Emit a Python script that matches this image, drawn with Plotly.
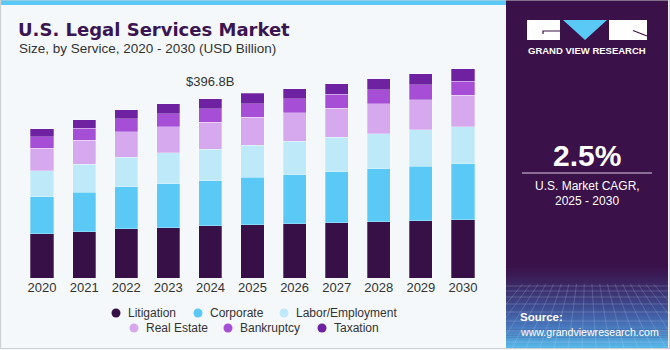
import plotly.graph_objects as go

# ---------------- data ----------------
years = ["2020", "2021", "2022", "2023", "2024", "2025", "2026", "2027", "2028", "2029", "2030"]
litigation = [98.2, 102.6, 109.3, 111.5, 115.5, 117.5, 120.4, 122.6, 124.8, 127.0, 129.3]
corporate = [81.4, 87.1, 93.1, 97.5, 99.5, 105.7, 108.6, 113.1, 117.5, 120.4, 124.2]
labor = [57.6, 62.1, 65.0, 68.1, 70.4, 70.9, 73.8, 76.0, 77.6, 81.4, 82.0]
real_estate = [50.3, 53.2, 56.1, 58.3, 60.0, 62.1, 63.6, 64.3, 65.8, 66.5, 69.4]
bankruptcy = [25.1, 27.3, 28.8, 28.8, 29.6, 30.4, 30.4, 31.0, 31.7, 32.6, 31.0]
taxation = [18.4, 18.4, 20.0, 21.5, 21.8, 22.2, 22.8, 23.7, 24.4, 24.4, 27.3]
series_names = ["Litigation", "Corporate", "Labor/Employment", "Real Estate", "Bankruptcy", "Taxation"]
highlight_year = "2024"
highlight_label = "$396.8B"
cagr_text = "2.5%"

# ---------------- styles ----------------
colors = ["#381048", "#5BC9F5", "#BDE9F9", "#D6A9EE", "#A64FD6", "#6E21A0"]
values = [litigation, corporate, labor, real_estate, bankruptcy, taxation]

W, H = 670, 350
L, R, T, B = 21, 186, 60, 72
pw, ph = W - L - R, H - T - B


def px(x):
    return (x - L) / pw


def py(y):
    return (H - B - y) / ph


fig = go.Figure()
for name, vals, col in zip(series_names, values, colors):
    fig.add_trace(go.Bar(
        x=years, y=vals, name=name, marker_color=col,
        marker_line=dict(width=0.8, color="rgba(255,255,255,0.35)"),
        showlegend=False, hoverinfo="skip"))

ymax = 483
shapes = []
BG = "#F4F8FB"
PANEL = "#3A1149"
# top blue strip
shapes.append(dict(type="rect", xref="paper", yref="paper", x0=px(0), x1=px(506), y0=py(0), y1=py(5),
                   fillcolor="#5BC9F5", line_width=0, layer="below"))
# right dark panel
shapes.append(dict(type="rect", xref="paper", yref="paper", x0=px(506), x1=px(668), y0=py(0), y1=py(348),
                   fillcolor=PANEL, line_width=0, layer="below"))


# gradient at the bottom of the panel
def lerp(c1, c2, t):
    return tuple(int(round(a + (b - a) * t)) for a, b in zip(c1, c2))


stops = [(266, (58, 17, 73)), (285, (60, 40, 100)), (305, (62, 72, 140)), (325, (70, 115, 185)), (348, (88, 185, 232))]
for i in range(len(stops) - 1):
    y0, c0 = stops[i]
    y1, c1 = stops[i + 1]
    n = int((y1 - y0) / 2)
    for k in range(n):
        ya = y0 + (y1 - y0) * k / n
        yb = y0 + (y1 - y0) * (k + 1) / n
        c = lerp(c0, c1, (k + 0.5) / n)
        shapes.append(dict(type="rect", xref="paper", yref="paper", x0=px(506), x1=px(668),
                           y0=py(ya), y1=py(yb + 0.3), fillcolor="rgb(%d,%d,%d)" % c, line_width=0, layer="below"))
# mesh lines
for yy in [286, 291, 297, 304, 312, 321, 331, 342]:
    shapes.append(dict(type="line", xref="paper", yref="paper", x0=px(506), x1=px(668), y0=py(yy), y1=py(yy),
                       line=dict(color="rgba(200,220,255,0.22)", width=1), layer="below"))
for xb in range(470, 720, 14):
    xt = 587 + (xb - 587) * 0.55
    shapes.append(dict(type="line", xref="paper", yref="paper", x0=px(xt), x1=px(xb), y0=py(284), y1=py(348),
                       line=dict(color="rgba(200,220,255,0.2)", width=1), layer="below"))
# cover the overflow of mesh lines outside panel
shapes.append(dict(type="rect", xref="paper", yref="paper", x0=px(668), x1=px(720), y0=py(0), y1=py(360),
                   fillcolor=BG, line_width=0, layer="below"))
shapes.append(dict(type="rect", xref="paper", yref="paper", x0=px(440), x1=px(506), y0=py(270), y1=py(360),
                   fillcolor=BG, line_width=0, layer="below"))
# outer border
shapes.append(dict(type="rect", xref="paper", yref="paper", x0=px(0.5), x1=px(669.5), y0=py(0), y1=py(348.5),
                   fillcolor="rgba(0,0,0,0)", line=dict(color="#CDCFD2", width=1.2), layer="above"))
# logo
shapes.append(dict(type="rect", xref="paper", yref="paper", x0=px(527), x1=px(560), y0=py(20), y1=py(40),
                   fillcolor="white", line_width=0))
shapes.append(dict(type="path", xref="paper", yref="paper",
                   path="M %f,%f L %f,%f L %f,%f Z" % (px(563), py(20), px(607), py(20), px(585), py(40)),
                   fillcolor="#5BC9F5", line_width=0))
shapes.append(dict(type="rect", xref="paper", yref="paper", x0=px(609), x1=px(647), y0=py(20), y1=py(40),
                   fillcolor="white", line_width=0))
shapes.append(dict(type="path", xref="paper", yref="paper",
                   path="M %f,%f L %f,%f L %f,%f" % (px(560), py(31), px(543), py(31), px(543), py(34)),
                   line=dict(color=PANEL, width=1.2)))
shapes.append(dict(type="line", xref="paper", yref="paper", x0=px(633), x1=px(647), y0=py(30.5), y1=py(36),
                   line=dict(color=PANEL, width=1.2)))
# CAGR divider
shapes.append(dict(type="line", xref="paper", yref="paper", x0=px(522), x1=px(652), y0=py(173), y1=py(173),
                   line=dict(color="#D9CDE3", width=1.2)))

# legend (drawn)
legend_pos = [(116, 313), (198, 313), (284, 313), (134, 328), (228, 328), (322, 328)]
annotations = []
for (mx, my), name, col in zip(legend_pos, series_names, colors):
    shapes.append(dict(type="circle", xref="paper", yref="paper", x0=px(mx - 4.5), x1=px(mx + 4.5),
                       y0=py(my - 4.5), y1=py(my + 4.5), fillcolor=col, line_width=0))
    annotations.append(dict(x=px(mx + 10), y=py(my), xref="paper", yref="paper", text=name, showarrow=False,
                            xanchor="left", yanchor="middle", font=dict(size=12, color="#333333")))

FONT = "Liberation Sans, Arial, sans-serif"
hi = years.index(highlight_year)
annotations += [
    dict(x=px(16), y=py(29), xref="paper", yref="paper", text="<b>U.S. Legal Services Market</b>",
         showarrow=False, xanchor="left", yanchor="middle",
         font=dict(size=18, color="#3B1452", family="DejaVu Sans, sans-serif")),
    dict(x=px(17), y=py(49), xref="paper", yref="paper", text="Size, by Service, 2020 - 2030 (USD Billion)",
         showarrow=False, xanchor="left", yanchor="middle", font=dict(size=13.5, color="#333333")),
    dict(x=hi, y=sum(v[hi] for v in values), xref="x", yref="y",
         text=highlight_label, showarrow=False, yanchor="bottom", yshift=8,
         font=dict(size=13, color="#333333")),
    dict(x=px(587), y=py(51), xref="paper", yref="paper", text="<b>GRAND VIEW RESEARCH</b>",
         showarrow=False, xanchor="center", yanchor="middle", font=dict(size=9.5, color="white")),
    dict(x=px(587), y=py(155), xref="paper", yref="paper", text="<b>%s</b>" % cagr_text,
         showarrow=False, xanchor="center", yanchor="middle", font=dict(size=30, color="white")),
    dict(x=px(587), y=py(186), xref="paper", yref="paper", text="U.S. Market CAGR,",
         showarrow=False, xanchor="center", yanchor="middle", font=dict(size=12, color="white")),
    dict(x=px(587), y=py(201), xref="paper", yref="paper", text="2025 - 2030",
         showarrow=False, xanchor="center", yanchor="middle", font=dict(size=12, color="white")),
    dict(x=px(518), y=py(317), xref="paper", yref="paper", text="<b>Source:</b>",
         showarrow=False, xanchor="left", yanchor="middle", font=dict(size=11.5, color="white")),
    dict(x=px(518), y=py(332), xref="paper", yref="paper", text="www.grandviewresearch.com",
         showarrow=False, xanchor="left", yanchor="middle", font=dict(size=10.6, color="white")),
]

fig.update_layout(
    width=W, height=H, autosize=False,
    margin=dict(l=L, r=R, t=T, b=B, pad=0),
    paper_bgcolor=BG, plot_bgcolor=BG,
    barmode="stack", bargap=0.45,
    font=dict(family=FONT, color="#333333"),
    xaxis=dict(type="category", range=[-0.5, len(years) - 0.5], autorange=False,
               showgrid=False, showline=False, zeroline=False, ticks="",
               tickfont=dict(size=13, color="#333333"), fixedrange=True),
    yaxis=dict(range=[0, ymax], autorange=False, visible=False, showgrid=False, fixedrange=True),
    shapes=shapes, annotations=annotations, showlegend=False,
)

fig.write_html("out.html", config={"displayModeBar": False})
